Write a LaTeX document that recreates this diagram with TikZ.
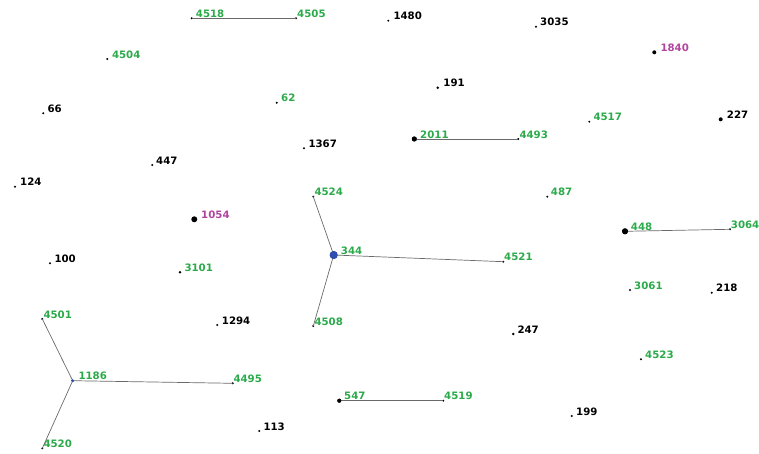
\documentclass[tikz,border=0pt]{standalone}
\usepackage{fontspec}
\setmainfont{DejaVu Sans}
\definecolor{idgreen}{HTML}{2BAA4A}
\definecolor{idpink}{HTML}{B0449F}
\definecolor{idblue}{HTML}{2F4FB0}
\definecolor{edgegray}{HTML}{6A6A6A}
\tikzset{
  dot/.style={circle,fill=black,inner sep=0pt,minimum size=2.2pt},
  lab/.style={font=\bfseries\fontsize{10.2}{10}\selectfont,inner sep=0pt,anchor=base west},
  edge/.style={draw=edgegray,line width=0.7pt},
}
% \vtx{name}{x}{y}{dot size}{dot colour}{label colour}{label gap}
\newcommand\vtx[7]{%
  \node[dot,minimum size=#4,fill=#5] (v#1) at (#2,#3) {};
  \node[lab,text=#6] (t#1) at ([xshift=#7,yshift=0.8pt]v#1.center) {#1};
}
\begin{document}
\begin{tikzpicture}[x=1pt,y=-1pt]
\useasboundingbox (0,0) rectangle (759,454);
% points and their numbers
\vtx{4518}{191.7}{18.3}{2.2pt}{black}{idgreen}{4pt}
\vtx{4505}{296}{18.3}{2.2pt}{black}{idgreen}{1pt}
\vtx{1480}{388.3}{20.7}{2.2pt}{black}{black}{5pt}
\vtx{3035}{536}{26.7}{2.2pt}{black}{black}{4pt}
\vtx{1840}{654.3}{52.3}{4pt}{black}{idpink}{6pt}
\vtx{4504}{107.3}{59}{2.2pt}{black}{idgreen}{4.5pt}
\vtx{191}{437.7}{87.7}{2.8pt}{black}{black}{5.5pt}
\vtx{66}{43.3}{113.3}{2.2pt}{black}{black}{4pt}
\vtx{62}{276.7}{102.7}{2.2pt}{black}{idgreen}{4.3pt}
\vtx{4517}{589.3}{121.7}{2.2pt}{black}{idgreen}{4pt}
\vtx{227}{720.7}{119.3}{4pt}{black}{black}{6pt}
\vtx{2011}{414.3}{139}{5pt}{black}{idgreen}{5.7pt}
\vtx{4493}{518.3}{139}{2.2pt}{black}{idgreen}{1pt}
\vtx{1367}{304}{148.3}{2.2pt}{black}{black}{4.3pt}
\vtx{447}{152.3}{165}{2.2pt}{black}{black}{3.7pt}
\vtx{124}{15}{186.7}{2.2pt}{black}{black}{5pt}
\vtx{4524}{313.3}{196.7}{2.2pt}{black}{idgreen}{1pt}
\vtx{487}{547.3}{196.7}{2.2pt}{black}{idgreen}{3.4pt}
\vtx{1054}{194.3}{219.3}{6pt}{black}{idpink}{6.7pt}
\vtx{448}{625}{231.3}{6pt}{black}{idgreen}{5.7pt}
\vtx{3064}{730}{229.3}{2.2pt}{black}{idgreen}{0.7pt}
\vtx{344}{333.7}{255}{8pt}{idblue}{idgreen}{7pt}
\vtx{4521}{503.3}{261.7}{2.2pt}{black}{idgreen}{0.7pt}
\vtx{100}{50}{263.3}{2.2pt}{black}{black}{4.3pt}
\vtx{3101}{180}{272.3}{2.8pt}{black}{idgreen}{4.3pt}
\vtx{3061}{630}{290}{2.2pt}{black}{idgreen}{4pt}
\vtx{218}{711.7}{292.7}{2.2pt}{black}{black}{4.3pt}
\vtx{4501}{42.3}{319}{2.2pt}{black}{idgreen}{1pt}
\vtx{1294}{217.3}{325}{2.2pt}{black}{black}{4.4pt}
\vtx{4508}{313.3}{326}{2.2pt}{black}{idgreen}{1pt}
\vtx{247}{513.3}{334}{2.8pt}{black}{black}{4pt}
\vtx{4523}{641}{359.3}{2.2pt}{black}{idgreen}{4pt}
\vtx{1186}{72.7}{380.7}{3pt}{idblue}{idgreen}{5.6pt}
\vtx{4495}{232.7}{383.3}{2.2pt}{black}{idgreen}{0.6pt}
\vtx{547}{339.3}{400.7}{4pt}{black}{idgreen}{4.7pt}
\vtx{4519}{443.3}{400.7}{2.2pt}{black}{idgreen}{0.7pt}
\vtx{199}{571.7}{416}{2.2pt}{black}{black}{4.3pt}
\vtx{113}{259.3}{431}{2.2pt}{black}{black}{4pt}
\vtx{4520}{42.3}{448.3}{2.2pt}{black}{idgreen}{1pt}
% connectors between points
\draw[edge] (v4518.center) -- (v4505.center);
\draw[edge] (v2011.center) -- (v4493.center);
\draw[edge] (v448.center) -- (v3064.center);
\draw[edge] (v344.center) -- (v4524.center);
\draw[edge] (v344.center) -- (v4521.center);
\draw[edge] (v344.center) -- (v4508.center);
\draw[edge] (v1186.center) -- (v4501.center);
\draw[edge] (v1186.center) -- (v4495.center);
\draw[edge] (v1186.center) -- (v4520.center);
\draw[edge] (v547.center) -- (v4519.center);
% larger markers drawn again on top of the lines
\node[dot,minimum size=8pt,fill=idblue] (m344) at (v344) {};
\node[dot,minimum size=6pt] (m448) at (v448) {};
\node[dot,minimum size=5pt] (m2011) at (v2011) {};
\node[dot,minimum size=3pt,fill=idblue] (m1186) at (v1186) {};
\node[dot,minimum size=4pt] (m547) at (v547) {};
\end{tikzpicture}
\end{document}
